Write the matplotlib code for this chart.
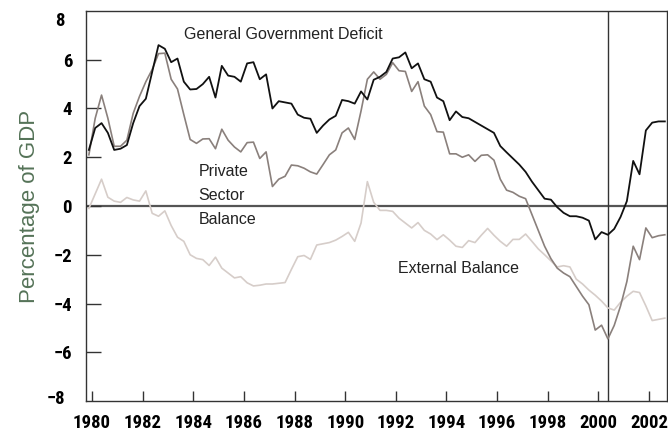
import numpy as np
import matplotlib
matplotlib.use("Agg")
import matplotlib.pyplot as plt

# quarterly points, Q4 1979 .. Q3 2002 (percent of GDP)
years = np.arange(1979.875, 2002.7, 0.25)

gov_deficit = [
    2.3, 3.2, 3.4, 3.0, 2.3, 2.35, 2.5, 3.4, 4.1, 4.4, 5.5, 6.6, 6.45, 5.9, 6.05, 5.1,
    4.78, 4.8, 5.0, 5.3, 4.45, 5.75, 5.35, 5.3, 5.1, 5.85, 5.9, 5.2, 5.4, 4.0, 4.3, 4.25,
    4.2, 3.75, 3.62, 3.58, 3.0, 3.3, 3.55, 3.7, 4.35, 4.3, 4.2, 4.7, 4.37, 5.18, 5.3, 5.5,
    6.05, 6.1, 6.3, 5.65, 5.85, 5.2, 5.1, 4.45, 4.3, 3.52, 3.88, 3.65, 3.6, 3.45, 3.3, 3.15,
    3.0, 2.46, 2.2, 1.95, 1.7, 1.4, 1.0, 0.65, 0.3, 0.26, -0.05, -0.28, -0.42, -0.42, -0.48, -0.6,
    -1.37, -1.07, -1.18, -0.94, -0.45, 0.2, 1.85, 1.3, 3.1, 3.42, 3.47, 3.47,
]

private_balance = [
    2.1, 3.6, 4.55, 3.6, 2.45, 2.45, 2.7, 3.8, 4.5, 5.1, 5.6, 6.25, 6.27, 5.2, 4.8, 3.75,
    2.73, 2.57, 2.75, 2.76, 2.35, 3.15, 2.7, 2.42, 2.22, 2.6, 2.62, 1.95, 2.22, 0.8, 1.1, 1.22,
    1.68, 1.65, 1.55, 1.4, 1.31, 1.7, 2.1, 2.3, 3.0, 3.2, 2.73, 3.9, 5.2, 5.5, 5.2, 5.4,
    5.88, 5.55, 5.52, 4.7, 5.1, 4.1, 3.75, 3.05, 3.03, 2.14, 2.14, 2.0, 2.1, 1.83, 2.08, 2.1,
    1.88, 1.1, 0.65, 0.56, 0.4, 0.3, -0.35, -1.0, -1.65, -2.16, -2.55, -2.75, -2.9, -3.3, -3.7, -4.05,
    -5.09, -4.89, -5.45, -4.9, -4.1, -3.1, -1.65, -2.2, -0.9, -1.3, -1.22, -1.18,
]

external_balance = [
    -0.1, 0.5, 1.1, 0.36, 0.2, 0.15, 0.35, 0.25, 0.2, 0.62, -0.3, -0.42, -0.2, -0.8, -1.28, -1.45,
    -2.0, -2.15, -2.2, -2.44, -2.1, -2.55, -2.75, -2.95, -2.9, -3.15, -3.28, -3.25, -3.2, -3.2, -3.17, -3.14,
    -2.6, -2.08, -2.03, -2.19, -1.6, -1.55, -1.5, -1.4, -1.25, -1.08, -1.45, -0.7, 1.0, 0.15, -0.18, -0.18,
    -0.22, -0.5, -0.7, -0.9, -0.68, -1.0, -1.15, -1.38, -1.18, -1.4, -1.65, -1.7, -1.42, -1.5, -1.2, -0.92,
    -1.2, -1.45, -1.65, -1.37, -1.37, -1.15, -1.45, -1.76, -2.0, -2.25, -2.5, -2.45, -2.5, -3.0, -3.2, -3.45,
    -3.66, -3.9, -4.18, -4.27, -3.95, -3.7, -3.5, -3.55, -4.1, -4.7, -4.65, -4.6,
]

x_ticks = list(range(1980, 2003, 2))
y_ticks = [-6, -4, -2, 0, 2, 4, 6]

tick_font = ["Liberation Sans Narrow", "DejaVu Sans Condensed", "Roboto Condensed", "DejaVu Sans"]
text_font = ["Liberation Sans", "DejaVu Sans"]

fig = plt.figure(figsize=(6.68, 4.33), dpi=100)
ax = fig.add_axes([0.1287, 0.0739, 0.8698, 0.9007])

ax.plot(years, external_balance, color="#d6cdc9", lw=1.2)
ax.plot(years, private_balance, color="#8a807c", lw=1.2)
ax.plot(years, gov_deficit, color="#111111", lw=1.3)

ax.axhline(0, color="#555555", lw=1.6, zorder=0)
ax.axvline(2000.38, color="#333333", lw=1.0, zorder=0)

ax.set_xlim(1979.76, 2002.71)
ax.set_ylim(-8, 8)
ax.set_xticks(x_ticks)
ax.set_yticks(y_ticks)
ax.set_xticklabels([str(y) for y in x_ticks], family=tick_font, weight="heavy",
                   fontsize=13.5, stretch="condensed")
ax.set_yticklabels([str(v).replace("-", "\u2212") for v in y_ticks],
                   family=tick_font, weight="heavy", fontsize=13.5, stretch="condensed")
ax.tick_params(axis="y", direction="in", length=11, width=1, color="#333333", pad=10)
ax.tick_params(axis="x", direction="in", length=7, width=1, color="#333333", pad=9)
for s in ax.spines.values():
    s.set_color("#333333")
    s.set_linewidth(1.0)

# the 8 and -8 labels sit a little inside the frame
for val, ypos in [(8, 7.6), (-8, -7.9)]:
    ax.text(-0.0365, ypos, str(val).replace("-", "\u2212"), transform=ax.get_yaxis_transform(),
            ha="right", va="center", family=tick_font, weight="heavy", fontsize=13.5,
            stretch="condensed")

ax.set_ylabel("Percentage of GDP", color="#557358", fontsize=16,
              family=text_font, labelpad=10)

ax.text(1983.62, 7.05, "General Government Deficit", fontsize=11.5, family=text_font,
        color="#222222", va="center")
ax.text(1984.2, 1.4, "Private", fontsize=11.5, family=text_font, color="#222222", va="center")
ax.text(1984.2, 0.42, "Sector", fontsize=11.5, family=text_font, color="#222222", va="center")
ax.text(1984.2, -0.56, "Balance", fontsize=11.5, family=text_font, color="#222222", va="center")
ax.text(1992.1, -2.55, "External Balance", fontsize=11.5, family=text_font,
        color="#222222", va="center")

fig.savefig("out.png", dpi=100)
